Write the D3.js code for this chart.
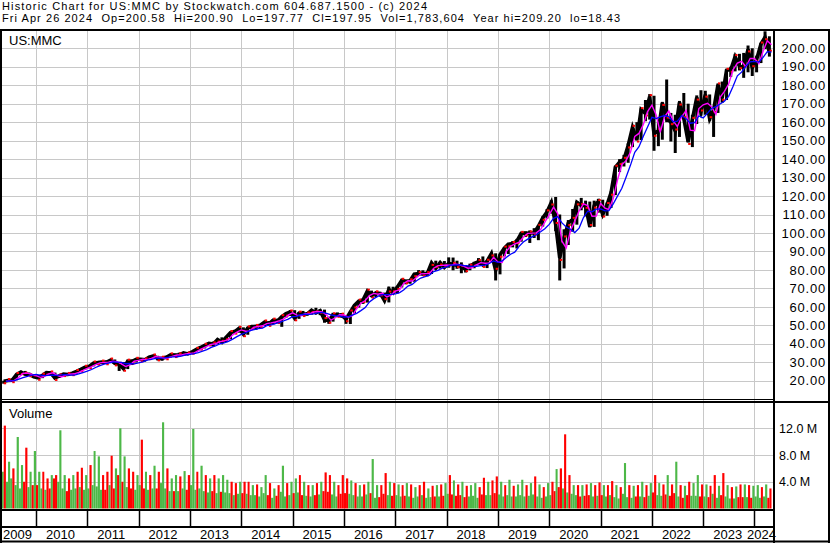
<html>
<head>
<style>
    body { margin: 0; background: #fff; }
    text { font-family: "Liberation Sans", Arial, sans-serif; fill: #000; }
</style>
</head>
<body>
<script src="https://d3js.org/d3.v7.min.js"></script>
<script>
var width = 830, height = 543;

var title = "Historic Chart for US:MMC by Stockwatch.com 604.687.1500 - (c) 2024";
var quote = "Fri Apr 26 2024  Op=200.58  Hi=200.90  Lo=197.77  Cl=197.95  Vol=1,783,604  Year hi=209.20  lo=18.43";
var symbol = "US:MMC";
var priceTicks = [20, 30, 40, 50, 60, 70, 80, 90, 100, 110, 120, 130, 140, 150, 160, 170, 180, 190, 200];
var volTicks = [4, 8, 12];
var years = [2009, 2010, 2011, 2012, 2013, 2014, 2015, 2016, 2017, 2018, 2019, 2020, 2021, 2022, 2023, 2024];

// monthly high / low / close, May 2009 .. Apr 2024
var hi = [
    20.0, 21.0, 21.2, 23.8, 25.0, 25.3, 24.2, 23.6,
    23.0, 23.3, 24.6, 25.2, 24.4, 23.0, 23.8, 24.0, 24.3, 25.2, 26.3, 27.5,
    28.3, 30.1, 30.2, 30.7, 31.0, 31.3, 31.5, 29.6, 30.1, 31.0, 31.5, 32.0,
    32.2, 32.0, 33.0, 33.9, 33.5, 32.6, 33.5, 34.3, 34.6, 35.2, 35.3, 35.4,
    36.0, 37.4, 38.2, 39.6, 40.9, 41.2, 42.7, 43.5, 44.1, 46.3, 47.6, 48.7,
    48.9, 48.9, 50.0, 50.3, 50.4, 52.0, 52.3, 53.4, 53.6, 55.1, 56.8, 58.3,
    58.2, 57.2, 57.8, 57.2, 58.5, 59.5, 58.5, 58.5, 54.6, 56.8, 57.0, 56.6,
    55.3, 57.4, 61.0, 63.5, 64.4, 68.6, 68.8, 68.0, 67.9, 67.7, 71.0, 70.9,
    71.0, 74.8, 74.6, 74.8, 78.0, 79.9, 79.8, 79.1, 84.3, 85.0, 84.4, 84.8,
    86.8, 86.7, 85.0, 84.1, 82.6, 83.4, 84.4, 86.4, 87.3, 85.4, 89.2, 89.0,
    88.5, 92.2, 94.0, 95.6, 96.8, 100.2, 100.9, 101.4, 102.6, 104.0, 109.0, 112.9,
    117.7, 119.5, 110.0, 102.0, 107.0, 113.0, 117.3, 119.0, 117.5, 117.0, 117.5, 118.5,
    118.0, 116.5, 122.5, 136.5, 140.0, 142.3, 148.5, 157.6, 160.0, 167.5, 172.0, 175.2,
    174.3, 160.6, 171.0, 183.1, 165.0, 164.0, 171.5, 175.8, 170.0, 164.0, 174.5, 177.3,
    177.0, 175.0, 167.0, 181.0, 182.0, 188.5, 190.0, 197.0, 197.0, 197.5, 201.5, 200.0,
    196.0, 203.0, 209.2, 206.5
];
var lo = [
    18.4, 19.5, 19.8, 20.3, 23.0, 23.1, 22.8, 21.9,
    21.3, 21.4, 22.8, 23.8, 20.9, 21.5, 22.2, 22.8, 23.0, 23.9, 24.9, 26.0,
    27.0, 27.8, 28.5, 29.6, 29.6, 29.6, 29.0, 25.3, 26.3, 26.3, 28.5, 29.9,
    31.0, 30.9, 31.2, 32.5, 31.0, 30.8, 31.9, 32.6, 33.5, 33.8, 33.5, 34.2,
    34.7, 35.6, 36.5, 37.5, 39.0, 38.5, 39.8, 40.6, 40.9, 42.5, 45.8, 46.0,
    45.0, 44.9, 47.5, 47.6, 48.5, 49.6, 50.4, 50.5, 51.4, 49.2, 54.2, 55.1,
    53.5, 53.5, 55.0, 55.4, 55.8, 56.3, 55.5, 51.4, 50.8, 52.0, 54.5, 54.1,
    50.8, 50.7, 56.5, 59.6, 61.6, 62.3, 65.5, 65.3, 65.5, 62.6, 62.4, 67.2,
    67.3, 70.5, 72.2, 72.5, 73.6, 76.9, 76.9, 76.5, 77.8, 80.3, 80.7, 81.0,
    81.2, 79.8, 80.6, 78.2, 78.6, 79.8, 80.9, 82.7, 82.6, 81.0, 84.3, 74.3,
    77.6, 87.3, 88.6, 92.2, 91.6, 95.3, 97.8, 94.6, 97.3, 96.1, 103.5, 107.8,
    110.5, 101.0, 74.3, 80.8, 93.5, 100.7, 104.5, 112.3, 109.0, 103.0, 103.3, 111.0,
    108.8, 109.3, 113.5, 120.5, 133.0, 136.0, 138.0, 146.5, 150.0, 150.3, 160.5, 161.4,
    144.5, 147.0, 150.5, 160.0, 149.5, 143.3, 152.0, 161.5, 149.0, 146.5, 159.0, 163.5,
    164.0, 160.5, 152.0, 165.0, 170.5, 172.0, 184.5, 187.5, 188.0, 184.0, 187.0, 185.0,
    187.0, 192.0, 199.5, 195.5
];
var cl = [
    19.7, 20.1, 20.3, 23.4, 24.7, 23.5, 23.5, 22.1,
    21.6, 23.0, 24.4, 24.2, 21.5, 22.6, 23.6, 23.4, 24.1, 25.0, 26.1, 27.3,
    27.9, 29.6, 29.8, 30.1, 30.0, 31.2, 29.4, 28.9, 26.5, 30.6, 30.5, 31.6,
    31.6, 31.3, 32.8, 33.4, 32.1, 32.2, 32.7, 34.0, 33.9, 34.0, 35.1, 34.5,
    35.7, 37.0, 38.0, 39.2, 40.2, 39.9, 42.3, 40.8, 43.6, 46.1, 46.6, 48.4,
    45.2, 48.6, 49.3, 49.4, 50.1, 51.8, 50.8, 52.8, 52.3, 54.7, 56.3, 57.2,
    53.8, 56.6, 56.1, 56.2, 58.2, 56.7, 57.9, 53.1, 52.5, 55.7, 55.7, 55.5,
    53.3, 57.2, 60.8, 63.1, 63.7, 68.5, 66.1, 67.6, 67.3, 63.4, 69.4, 67.6,
    70.8, 74.4, 73.9, 74.1, 77.7, 78.0, 78.0, 78.0, 83.8, 80.9, 84.0, 81.4,
    83.5, 83.0, 82.6, 81.5, 80.4, 82.0, 83.4, 84.5, 82.7, 84.7, 88.9, 79.8,
    88.2, 91.8, 93.9, 94.3, 95.6, 99.8, 99.8, 100.0, 100.1, 103.6, 108.2, 111.4,
    116.5, 104.6, 86.5, 97.3, 105.4, 107.4, 116.6, 114.9, 114.7, 103.5, 114.8, 117.0,
    110.0, 115.4, 121.8, 135.6, 138.4, 139.9, 147.4, 157.2, 150.6, 166.8, 164.7, 173.8,
    153.7, 155.4, 170.4, 161.7, 160.0, 155.2, 170.6, 162.0, 149.3, 161.5, 173.3, 165.5,
    174.9, 161.9, 166.6, 180.2, 173.2, 188.1, 188.4, 195.5, 190.3, 189.7, 199.4, 189.5,
    193.9, 202.3, 206.0, 197.9
];

// volume in millions: busiest day and usual level per month
var volPeak = [
    12.4, 7.0, 6.0, 10.7, 6.5, 9.1, 5.5, 8.6,
    5.5, 5.5, 4.5, 5.0, 5.0, 11.7, 5.0, 4.5, 5.0, 5.5, 6.1, 5.0,
    6.5, 8.6, 7.8, 5.0, 5.5, 7.9, 6.0, 12.0, 7.8, 6.0, 5.5, 5.0,
    10.3, 5.5, 5.0, 6.4, 5.5, 12.9, 6.0, 4.5, 5.0, 4.8, 5.6, 5.0,
    11.9, 5.5, 6.4, 5.0, 4.5, 5.0, 4.5, 5.0, 4.3, 4.0, 3.8, 4.0,
    4.0, 4.0, 3.5, 3.6, 3.2, 5.0, 3.8, 3.0, 3.5, 6.4, 3.8, 4.0,
    4.5, 5.0, 4.0, 3.5, 3.5, 3.8, 4.0, 5.4, 5.0, 4.0, 3.5, 5.0,
    4.5, 4.2, 3.8, 3.5, 3.6, 4.0, 7.4, 3.5, 3.5, 5.3, 4.0, 3.8,
    3.6, 3.5, 3.8, 3.6, 3.2, 3.5, 4.0, 3.0, 3.4, 3.5, 3.6, 3.8,
    5.0, 4.2, 3.6, 4.0, 3.4, 3.5, 3.8, 3.2, 4.6, 4.0, 4.2, 4.8,
    4.0, 3.5, 4.3, 3.4, 3.6, 4.3, 3.5, 3.8, 4.8, 3.6, 3.2, 3.8,
    4.0, 5.9, 6.0, 11.1, 5.0, 3.5, 3.5, 3.5, 3.6, 3.8, 3.5, 3.9,
    3.5, 3.5, 4.1, 3.5, 3.2, 6.8, 3.5, 3.4, 3.5, 4.0, 3.5, 3.8,
    5.0, 3.8, 3.6, 5.0, 3.6, 7.0, 3.5, 3.4, 4.0, 3.8, 5.0, 3.6,
    3.6, 3.4, 5.0, 3.4, 5.3, 3.5, 3.2, 3.3, 3.6, 3.6, 3.5, 3.4,
    3.5, 3.2, 3.6, 3.0
];
var volTyp = [
    5.5, 4.0, 4.5, 3.5, 3.0, 4.0, 3.2, 3.5,
    3.5, 3.0, 2.8, 3.0, 4.5, 4.0, 3.0, 2.6, 2.8, 3.0, 3.2, 2.8,
    3.0, 3.5, 3.3, 2.8, 2.8, 3.5, 3.0, 5.0, 4.0, 3.2, 3.0, 2.8,
    3.5, 3.0, 2.8, 3.0, 3.0, 3.8, 3.0, 2.6, 2.6, 2.6, 3.0, 2.8,
    3.5, 2.8, 3.0, 2.6, 2.4, 2.6, 2.3, 2.5, 2.4, 2.3, 2.0, 2.2,
    2.3, 2.2, 2.0, 2.0, 1.8, 2.3, 2.0, 1.6, 1.9, 2.5, 1.8, 2.0,
    2.3, 2.4, 2.0, 1.9, 1.8, 2.0, 2.1, 2.6, 2.5, 2.1, 1.8, 2.2,
    2.3, 2.2, 2.0, 1.8, 1.8, 2.1, 2.3, 1.6, 1.7, 2.2, 2.0, 1.9,
    2.0, 1.8, 1.9, 1.8, 1.6, 1.8, 2.0, 1.6, 1.7, 1.8, 1.8, 1.9,
    2.2, 2.1, 1.9, 2.0, 1.7, 1.8, 1.9, 1.6, 2.1, 2.0, 2.0, 2.3,
    2.1, 1.8, 2.0, 1.8, 1.8, 2.0, 1.8, 1.9, 2.1, 1.8, 1.6, 1.8,
    2.0, 2.6, 3.2, 3.0, 2.4, 2.2, 2.0, 1.8, 1.9, 2.0, 1.8, 1.9,
    2.0, 1.8, 2.0, 1.7, 1.5, 2.2, 1.7, 1.6, 1.8, 1.8, 1.7, 1.9,
    2.4, 2.0, 1.9, 2.1, 1.9, 2.3, 1.8, 1.6, 2.0, 1.9, 1.9, 1.8,
    1.8, 1.7, 2.2, 1.6, 2.0, 1.8, 1.5, 1.5, 1.7, 1.7, 1.7, 1.6,
    1.8, 1.6, 1.8, 1.6
];
// g = up day, r = down day, for the busiest day of each month
var peakDir = "rgrggrgg" + "grrgrggrgrrg" + "rggrrrgggrrg" + "rgrgrgrggrgr" + "grgrgrgggrrg" +
    "rrgrggrgrgrg" + "grgrgrgrrgrr" + "rgrgrgggrrgr" + "grgrgrrgrgrg" + "rgrgrggrrgrr" +
    "grgrggrgrgrg" + "rgrrrgrgrgrr" + "grrgrgrgrgrg" + "rgrgrgrgrggr" + "grrgrgrgrgrg" + "grgr";

var months = d3.timeMonth.range(new Date(2009, 4, 1), new Date(2024, 4, 1));

var green = "#4db848", red = "#ff0000", grid = "#c8c8c8";
var left = 2, right = 773;

var x = d3.scaleTime()
    .domain([new Date(2009, 3, 27), new Date(2024, 4, 1)])
    .range([1, 771.5]);
var y = d3.scaleLinear().domain([10, 209.2]).range([399.2, 31.3]);
var yv = d3.scaleLinear().domain([0, 12]).range([508.5, 428.3]);

var svg = d3.select("body").append("svg")
    .attr("width", width)
    .attr("height", height);

svg.append("rect").attr("width", width).attr("height", height).attr("fill", "#fff");

svg.append("defs").append("clipPath").attr("id", "plot")
    .append("rect").attr("x", left).attr("y", 31).attr("width", right - left).attr("height", 478);

// header
svg.append("text").attr("x", 2).attr("y", 9.5)
    .style("font-size", "11px").style("white-space", "pre")
    .attr("textLength", 425).attr("lengthAdjust", "spacing")
    .text(title);
svg.append("text").attr("x", 2).attr("y", 22)
    .style("font-size", "11px").style("white-space", "pre")
    .attr("textLength", 618).attr("lengthAdjust", "spacing")
    .text(quote);

// grid
var yearStarts = years.slice(1).map(function (yr) { return new Date(yr, 0, 1); });

svg.append("g").selectAll("line").data(priceTicks).enter().append("line")
    .attr("x1", left).attr("x2", right)
    .attr("y1", function (d) { return Math.round(y(d)) + 0.5; })
    .attr("y2", function (d) { return Math.round(y(d)) + 0.5; })
    .attr("stroke", grid);

svg.append("g").selectAll("line").data(volTicks).enter().append("line")
    .attr("x1", left).attr("x2", right)
    .attr("y1", function (d) { return Math.round(yv(d)) + 0.5; })
    .attr("y2", function (d) { return Math.round(yv(d)) + 0.5; })
    .attr("stroke", grid);

svg.append("g").selectAll("line").data(yearStarts).enter().append("line")
    .attr("x1", function (d) { return Math.round(x(d)) + 0.5; })
    .attr("x2", function (d) { return Math.round(x(d)) + 0.5; })
    .attr("y1", 31).attr("y2", 509)
    .attr("stroke", grid);

var plot = svg.append("g").attr("clip-path", "url(#plot)");

// volume
var vol = plot.append("g");
months.forEach(function (m, i) {
    var x0 = x(m), x1 = x(d3.timeMonth.offset(m, 1)), xm = (x0 + x1) / 2;
    var up = i == 0 || cl[i] >= cl[i - 1];
    vol.append("rect")
        .attr("x", x0).attr("width", xm - x0)
        .attr("y", yv(volTyp[i])).attr("height", yv(0) - yv(volTyp[i]))
        .attr("fill", up ? green : red);
    vol.append("rect")
        .attr("x", xm).attr("width", x1 - xm)
        .attr("y", yv(volPeak[i])).attr("height", yv(0) - yv(volPeak[i]))
        .attr("fill", peakDir[i] == "g" ? green : red);
});

// price bars
var mid = function (i) { return x(d3.timeDay.offset(months[i], 15)); };
var monthEnd = function (i) { return x(d3.timeMonth.offset(months[i], 1)); };

plot.append("path")
    .attr("d", d3.line().x(function (d, i) { return mid(i); }).y(function (d) { return y(d); })(cl))
    .attr("fill", "none")
    .attr("stroke", "#000")
    .attr("stroke-width", 3.6);

plot.append("g").selectAll("line").data(months).enter().append("line")
    .attr("x1", function (d, i) { return mid(i); })
    .attr("x2", function (d, i) { return mid(i); })
    .attr("y1", function (d, i) { return y(hi[i]); })
    .attr("y2", function (d, i) { return y(lo[i]); })
    .attr("stroke", "#000")
    .attr("stroke-width", 3);

plot.append("g").selectAll("rect").data(cl).enter().append("rect")
    .attr("x", function (d, i) { return mid(i); })
    .attr("y", function (d, i) { return y(d) + (i % 2 ? -2.5 : 1); })
    .attr("width", 2.5).attr("height", 2)
    .attr("fill", red);

// moving averages, placed at month end
function movingAvg(n) {
    return cl.map(function (d, i) {
        return d3.mean(cl.slice(Math.max(0, i - n + 1), i + 1));
    });
}
var maLine = d3.line().x(function (d, i) { return monthEnd(i); }).y(function (d) { return y(d); });

plot.append("path").attr("d", maLine(movingAvg(2)))
    .attr("fill", "none").attr("stroke", "#ff00ff").attr("stroke-width", 1.4);
plot.append("path").attr("d", maLine(movingAvg(5)))
    .attr("fill", "none").attr("stroke", "#0000ff").attr("stroke-width", 1.3);

// panel labels
svg.append("text").attr("x", 9).attr("y", 45).style("font-size", "13px").text(symbol);
svg.append("text").attr("x", 9).attr("y", 418).style("font-size", "13px").text("Volume");

// axes
var priceAxis = svg.append("g")
    .attr("transform", "translate(826,0)")
    .call(d3.axisRight(y).tickValues(priceTicks).tickFormat(d3.format(".2f")).tickSize(0));
priceAxis.select(".domain").remove();
priceAxis.selectAll("text").attr("x", 0).attr("text-anchor", "end")
    .style("font-size", "13px").style("letter-spacing", "0.8px").attr("font-family", null);

var volAxis = svg.append("g")
    .attr("transform", "translate(779,0)")
    .call(d3.axisRight(yv).tickValues(volTicks).tickFormat(function (d) { return d.toFixed(1) + " M"; }).tickSize(0));
volAxis.select(".domain").remove();
volAxis.selectAll("text").attr("x", 0).attr("text-anchor", "start")
    .style("font-size", "12.5px").attr("font-family", null);

// frame
var frame = svg.append("g").attr("stroke", "#000").attr("stroke-width", 2);
frame.append("line").attr("x1", 0).attr("x2", width).attr("y1", 30).attr("y2", 30);
frame.append("line").attr("x1", 1).attr("x2", 1).attr("y1", 30).attr("y2", height);
frame.append("line").attr("x1", 829).attr("x2", 829).attr("y1", 30).attr("y2", height);
frame.append("line").attr("x1", 774).attr("x2", 774).attr("y1", 30).attr("y2", height);
frame.append("line").attr("x1", 0).attr("x2", right).attr("y1", 399.5).attr("y2", 399.5).attr("stroke-width", 1);
frame.append("line").attr("x1", 0).attr("x2", width).attr("y1", 402).attr("y2", 402);
frame.append("line").attr("x1", 0).attr("x2", right).attr("y1", 510).attr("y2", 510);
frame.append("line").attr("x1", 0).attr("x2", right).attr("y1", 527).attr("y2", 527);
frame.append("line").attr("x1", 0).attr("x2", width).attr("y1", 541.5).attr("y2", 541.5);

frame.selectAll(".tick").data(yearStarts).enter().append("line")
    .attr("x1", function (d) { return Math.round(x(d)) + 0.5; })
    .attr("x2", function (d) { return Math.round(x(d)) + 0.5; })
    .attr("y1", 510).attr("y2", 527)
    .attr("stroke-width", 1.5);

// year labels
svg.append("g").selectAll("text").data(years).enter().append("text")
    .style("font-size", "13px")
    .attr("y", 539)
    .text(function (d) { return d; })
    .attr("x", function (d) {
        var w = this.getComputedTextLength();
        var pos = x(new Date(d, 0, 1)) + 10;
        return Math.max(3, Math.min(pos, 776 - w));
    });
</script>
</body>
</html>
